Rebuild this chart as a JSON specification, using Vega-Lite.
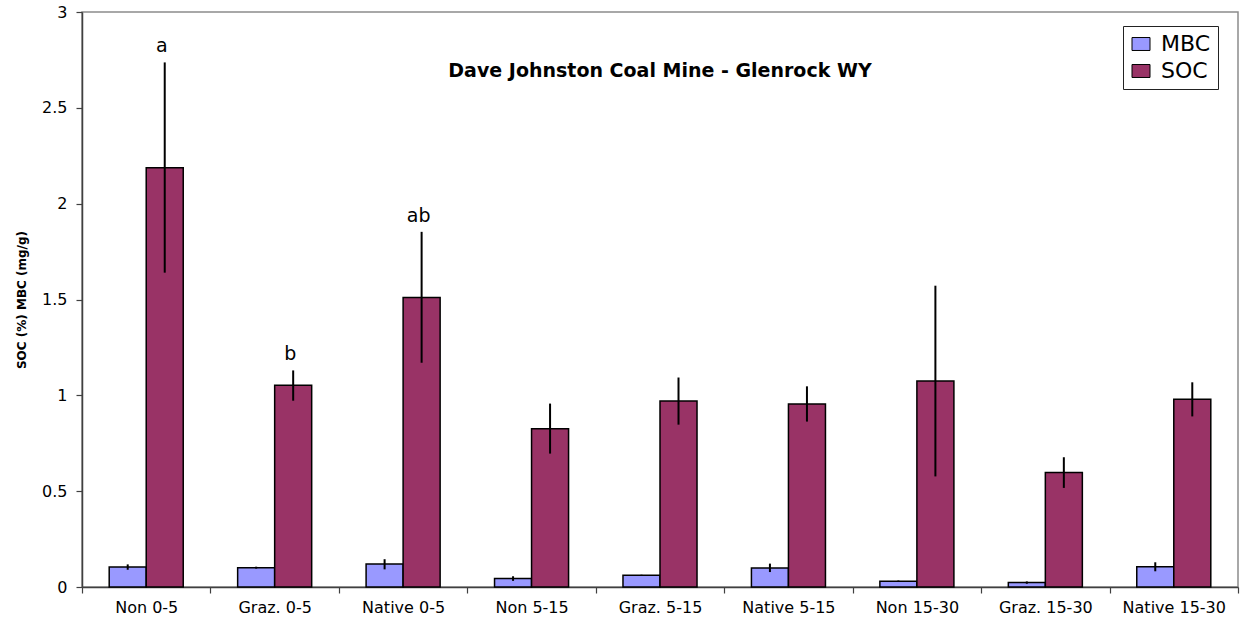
{
  "$schema": "https://vega.github.io/schema/vega-lite/v6.json",
  "width": 1156,
  "height": 575,
  "autosize": {"type": "none"},
  "padding": {"left": 82, "top": 12, "right": 3, "bottom": 35},
  "background": "white",
  "title": {
    "text": "Dave Johnston Coal Mine - Glenrock WY",
    "font": "DejaVu Sans",
    "fontSize": 19,
    "fontWeight": "bold",
    "color": "black",
    "anchor": "middle",
    "offset": -77
  },
  "config": {
    "view": {"stroke": "#8c8c8c", "strokeWidth": 1.5},
    "font": "DejaVu Sans"
  },
  "data": {
    "values": [
      {"site": "Non 0-5", "series": "MBC", "value": 0.104, "lo": 0.090, "hi": 0.118, "label": ""},
      {"site": "Non 0-5", "series": "SOC", "value": 2.187, "lo": 1.640, "hi": 2.737, "label": "a"},
      {"site": "Graz. 0-5", "series": "MBC", "value": 0.101, "lo": 0.096, "hi": 0.106, "label": ""},
      {"site": "Graz. 0-5", "series": "SOC", "value": 1.052, "lo": 0.972, "hi": 1.130, "label": "b"},
      {"site": "Native 0-5", "series": "MBC", "value": 0.120, "lo": 0.092, "hi": 0.145, "label": ""},
      {"site": "Native 0-5", "series": "SOC", "value": 1.511, "lo": 1.170, "hi": 1.853, "label": "ab"},
      {"site": "Non 5-15", "series": "MBC", "value": 0.044, "lo": 0.032, "hi": 0.056, "label": ""},
      {"site": "Non 5-15", "series": "SOC", "value": 0.826, "lo": 0.696, "hi": 0.957, "label": ""},
      {"site": "Graz. 5-15", "series": "MBC", "value": 0.061, "lo": 0.058, "hi": 0.064, "label": ""},
      {"site": "Graz. 5-15", "series": "SOC", "value": 0.970, "lo": 0.847, "hi": 1.093, "label": ""},
      {"site": "Native 5-15", "series": "MBC", "value": 0.099, "lo": 0.078, "hi": 0.122, "label": ""},
      {"site": "Native 5-15", "series": "SOC", "value": 0.955, "lo": 0.863, "hi": 1.047, "label": ""},
      {"site": "Non 15-30", "series": "MBC", "value": 0.030, "lo": 0.026, "hi": 0.034, "label": ""},
      {"site": "Non 15-30", "series": "SOC", "value": 1.075, "lo": 0.577, "hi": 1.572, "label": ""},
      {"site": "Graz. 15-30", "series": "MBC", "value": 0.023, "lo": 0.017, "hi": 0.029, "label": ""},
      {"site": "Graz. 15-30", "series": "SOC", "value": 0.597, "lo": 0.517, "hi": 0.677, "label": ""},
      {"site": "Native 15-30", "series": "MBC", "value": 0.106, "lo": 0.082, "hi": 0.129, "label": ""},
      {"site": "Native 15-30", "series": "SOC", "value": 0.979, "lo": 0.890, "hi": 1.068, "label": ""}
    ]
  },
  "encoding": {
    "x": {
      "field": "site",
      "type": "nominal",
      "sort": null,
      "scale": {"paddingInner": 0, "paddingOuter": 0},
      "axis": {
        "title": null,
        "labelAngle": 0,
        "labelFont": "DejaVu Sans",
        "labelFontSize": 16,
        "labelColor": "black",
        "labelPadding": 6,
        "tickBand": "extent",
        "tickSize": 6,
        "tickColor": "#404040",
        "domainColor": "#404040",
        "domainWidth": 1.5,
        "tickWidth": 1.2,
        "grid": false
      }
    },
    "xOffset": {
      "field": "series",
      "type": "nominal",
      "scale": {"domain": ["MBC", "SOC"], "paddingInner": 0, "paddingOuter": 0.735}
    }
  },
  "layer": [
    {
      "mark": {"type": "bar", "stroke": "black", "strokeWidth": 1.5},
      "encoding": {
        "y": {
          "field": "value",
          "type": "quantitative",
          "scale": {"domain": [0, 3], "nice": false},
          "axis": {
            "title": "SOC (%) MBC (mg/g)",
            "titleFont": "DejaVu Sans",
            "titleFontSize": 12,
            "titleFontWeight": "bold",
            "titleColor": "black",
            "titlePadding": 13,
            "values": [0, 0.5, 1, 1.5, 2, 2.5, 3],
            "format": ".1~f",
            "labelFont": "DejaVu Sans",
            "labelFontSize": 16,
            "labelColor": "black",
            "labelPadding": 9,
            "tickSize": 6,
            "tickColor": "#404040",
            "tickWidth": 1.2,
            "domainColor": "#404040",
            "domainWidth": 1.5,
            "grid": false
          }
        },
        "fill": {
          "field": "series",
          "type": "nominal",
          "scale": {"domain": ["MBC", "SOC"], "range": ["#9999FF", "#993366"]},
          "legend": {
            "title": null,
            "orient": "none",
            "legendX": 1041,
            "legendY": 14,
            "direction": "vertical",
            "fillColor": "white",
            "strokeColor": "#222222",
            "padding": 7,
            "symbolType": "M-1,-0.72H1V0.72H-1Z",
            "symbolSize": 324,
            "symbolStrokeColor": "black",
            "symbolStrokeWidth": 1,
            "labelFont": "DejaVu Sans",
            "labelFontSize": 22,
            "labelColor": "black",
            "labelOffset": 9,
            "rowPadding": 5
          }
        }
      }
    },
    {
      "mark": {"type": "rule", "color": "black", "strokeWidth": 2},
      "encoding": {
        "y": {"field": "lo", "type": "quantitative"},
        "y2": {"field": "hi"}
      }
    },
    {
      "transform": [{"filter": "datum.label != ''"}],
      "mark": {
        "type": "text",
        "font": "DejaVu Sans",
        "fontSize": 19,
        "color": "black",
        "baseline": "alphabetic",
        "dy": -10,
        "dx": -3
      },
      "encoding": {
        "y": {"field": "hi", "type": "quantitative"},
        "text": {"field": "label"}
      }
    }
  ]
}
